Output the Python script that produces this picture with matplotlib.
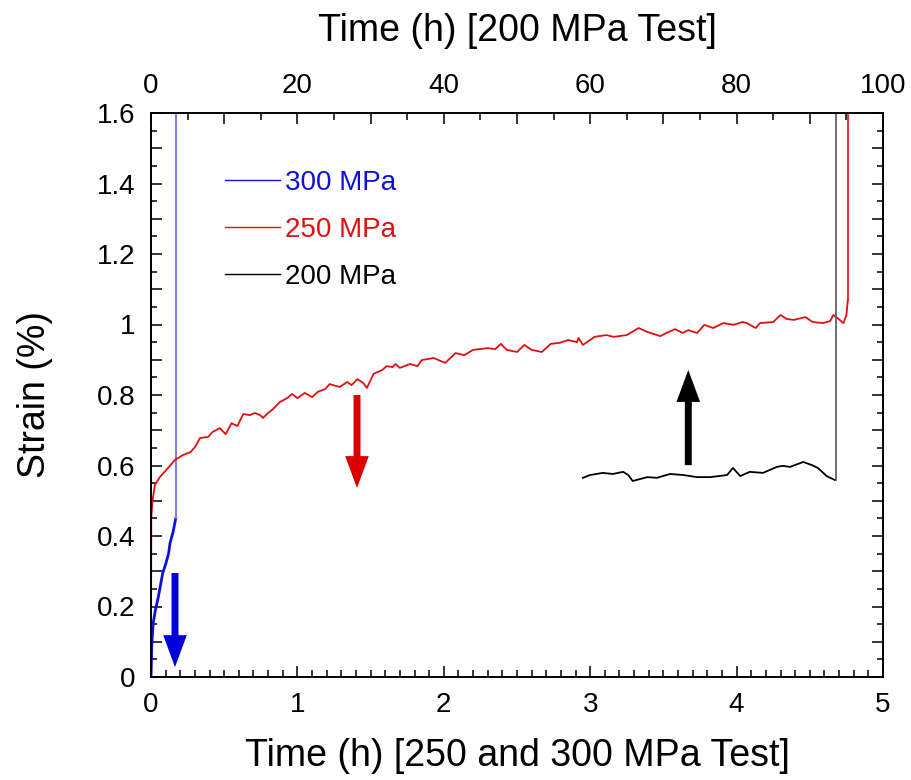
import matplotlib
matplotlib.use("Agg")
import matplotlib.pyplot as plt
from matplotlib.ticker import MultipleLocator, FuncFormatter

plt.rcParams['font.family'] = ['Liberation Sans', 'DejaVu Sans']

# ---------------- data ----------------
# 300 MPa test (bottom axis, h)
blue_t = [0.0, 0.002, 0.005, 0.015, 0.03, 0.05, 0.08, 0.10, 0.12, 0.13, 0.15, 0.169]
blue_s = [0.0, 0.03, 0.09, 0.153, 0.19, 0.227, 0.295, 0.32, 0.35, 0.38, 0.41, 0.45]
blue_fail_t = 0.169
blue_fail_s = 1.7

# 250 MPa test (bottom axis, h)
red_t = [0.0, 0.002, 0.01, 0.027, 0.06, 0.11, 0.164, 0.22, 0.27, 0.30, 0.335, 0.39,
         0.42, 0.47, 0.51, 0.55, 0.59, 0.63, 0.676, 0.71, 0.745, 0.765, 0.80, 0.833,
         0.88, 0.93, 0.963, 1.0, 1.05, 1.10, 1.14, 1.19, 1.22, 1.26, 1.29, 1.34,
         1.37, 1.41, 1.45, 1.475, 1.51, 1.52, 1.58, 1.61, 1.65, 1.67, 1.70, 1.77,
         1.82, 1.85, 1.93, 2.01, 2.08, 2.14, 2.20, 2.30, 2.35, 2.39, 2.43, 2.50,
         2.55, 2.60, 2.67, 2.73, 2.79, 2.85, 2.91, 2.92, 2.95, 3.03, 3.11, 3.16,
         3.25, 3.33, 3.39, 3.48, 3.52, 3.58, 3.63, 3.67, 3.73, 3.78, 3.84, 3.91,
         3.98, 4.04, 4.07, 4.13, 4.16, 4.25, 4.30, 4.34, 4.39, 4.47, 4.52, 4.59,
         4.64, 4.66, 4.69, 4.73, 4.75, 4.76]
red_s = [0.0, 0.45, 0.50, 0.545, 0.567, 0.59, 0.616, 0.63, 0.638, 0.652, 0.678, 0.681,
         0.695, 0.706, 0.689, 0.72, 0.712, 0.746, 0.743, 0.749, 0.743, 0.735, 0.749, 0.760,
         0.780, 0.791, 0.803, 0.791, 0.806, 0.794, 0.809, 0.817, 0.831, 0.826, 0.823, 0.837,
         0.828, 0.845, 0.834, 0.82, 0.851, 0.86, 0.871, 0.882, 0.879, 0.888, 0.877, 0.888,
         0.882, 0.899, 0.905, 0.891, 0.919, 0.913, 0.928, 0.933, 0.930, 0.945, 0.928, 0.922,
         0.942, 0.928, 0.922, 0.945, 0.948, 0.956, 0.95, 0.962, 0.942, 0.965, 0.970, 0.965,
         0.970, 0.990, 0.979, 0.967, 0.976, 0.987, 0.976, 0.984, 0.976, 0.999, 0.990, 1.004,
         0.999, 1.007, 1.004, 0.990, 1.004, 1.007, 1.027, 1.016, 1.013, 1.021, 1.007, 1.004,
         1.010, 1.027, 1.018, 1.004, 1.027, 1.07]
red_fail_t = 4.76
red_fail_s = 1.7

# 200 MPa test (top axis, h)
black_t = [59.0, 60.0, 61.7, 63.1, 64.5, 65.2, 65.8, 67.8, 69.1, 70.9, 72.7, 74.6,
           76.4, 78.7, 79.5, 80.5, 81.8, 83.6, 85.5, 86.3, 87.3, 89.1, 90.3, 91.1,
           92.3, 93.4]
black_s = [0.565, 0.573, 0.579, 0.576, 0.582, 0.573, 0.556, 0.567, 0.565, 0.576, 0.573, 0.567,
           0.567, 0.573, 0.593, 0.570, 0.582, 0.579, 0.596, 0.599, 0.596, 0.610, 0.601, 0.593,
           0.570, 0.559]
black_fail_t = 93.6
black_fail_s = 1.7

labels = ['300 MPa', '250 MPa', '200 MPa']
colors = ['#1010dd', '#e01010', '#000000']

# arrows: (x, tail y, head y) in bottom-axis units
arrow_blue = (0.164, 0.295, 0.028)
arrow_red = (1.407, 0.80, 0.536)
arrow_black = (3.67, 0.601, 0.871)

# ---------------- figure ----------------
fig = plt.figure(figsize=(9.12, 7.8), dpi=100)
ax = fig.add_axes([151/912, 1-677/780, 732/912, 564/780])
ax2 = ax.twiny()

lb, = ax.plot(blue_t, blue_s, color=colors[0], lw=2.0, label=labels[0])
ax.plot([blue_fail_t, blue_fail_t], [blue_s[-1], blue_fail_s], color='#7c7ce6', lw=1.4)
lr, = ax.plot(red_t, red_s, color=colors[1], lw=1.3, label=labels[1])
ax.plot([red_fail_t, red_fail_t], [red_s[-1], red_fail_s], color=colors[1], lw=1.2)
lk, = ax2.plot(black_t, black_s, color=colors[2], lw=1.3, label=labels[2])
ax2.plot([black_fail_t, black_fail_t], [black_s[-1], black_fail_s], color='#555555', lw=1.2)

for (x, y0, y1), c in zip([arrow_blue, arrow_red, arrow_black], ['#0000dd', '#dd0000', '#000000']):
    ax.annotate('', xy=(x, y1), xytext=(x, y0),
                arrowprops=dict(arrowstyle='simple,head_length=23,head_width=17,tail_width=5',
                                mutation_scale=1, color=c, shrinkA=0, shrinkB=0, lw=0))

ax.set_xlim(0, 5)
ax.set_ylim(0, 1.6)
ax2.set_xlim(0, 100)

ax.xaxis.set_major_locator(MultipleLocator(1))
ax.xaxis.set_minor_locator(MultipleLocator(0.1))
ax.yaxis.set_major_locator(MultipleLocator(0.1))
ax.yaxis.set_minor_locator(MultipleLocator(0.05))
ax2.xaxis.set_major_locator(MultipleLocator(10))
ax2.xaxis.set_minor_locator(MultipleLocator(5))

def yfmt(v, pos):
    k = round(v * 10)
    if k % 2:
        return ''
    return '%g' % (k / 10)
def topfmt(v, pos):
    k = int(round(v))
    return '%d' % k if k % 20 == 0 else ''
ax.yaxis.set_major_formatter(FuncFormatter(yfmt))
ax2.xaxis.set_major_formatter(FuncFormatter(topfmt))

ax.tick_params(axis='both', which='both', direction='in', labelsize=20, width=1.1)
ax.tick_params(axis='y', which='major', length=8, right=True, pad=11)
ax.tick_params(axis='y', which='minor', length=4, right=True)
ax.tick_params(axis='x', which='major', length=8, pad=11)
ax.tick_params(axis='x', which='minor', length=5)
ax2.tick_params(axis='x', which='both', direction='in', labelsize=20, width=1.1, pad=10)
ax2.tick_params(axis='x', which='major', length=8)
ax2.tick_params(axis='x', which='minor', length=5)

for a in (ax, ax2):
    for sp in a.spines.values():
        sp.set_linewidth(1.2)

ax.set_xlabel('Time (h) [250 and 300 MPa Test]', fontsize=27, labelpad=14)
ax2.set_xlabel('Time (h) [200 MPa Test]', fontsize=27, labelpad=23)
ax.set_ylabel('Strain (%)', fontsize=27, labelpad=32)

leg = ax.legend(handles=[lb, lr, lk], loc='upper left', bbox_to_anchor=(0.101, 0.899),
                frameon=False, fontsize=20, handlelength=2.0, handletextpad=0.18,
                labelspacing=0.76, borderpad=0, borderaxespad=0, labelcolor='linecolor')
for h in leg.legend_handles:
    h.set_linewidth(1.0)

fig.savefig('out.png', dpi=100)
